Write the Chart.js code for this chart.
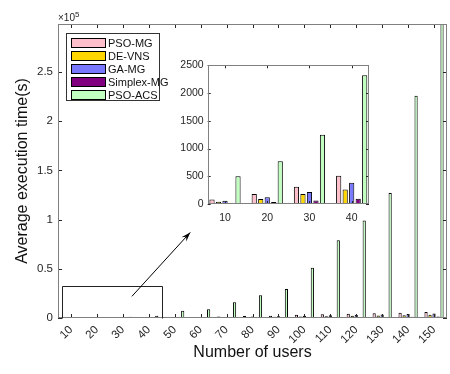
<!DOCTYPE html>
<html><head><meta charset="utf-8">
<script src="https://cdn.jsdelivr.net/npm/chart.js@4/dist/chart.umd.min.js"></script>
<style>
html,body{margin:0;padding:0;background:#fff;}
#wrap{position:relative;width:450px;height:374px;font-family:"Liberation Sans",Arial,sans-serif;}
#main{position:absolute;left:0;top:0;}
#inset{position:absolute;left:170px;top:55px;}
#legend{position:absolute;left:66px;top:33px;width:94px;height:68px;border:1px solid #333;background:#fff;box-sizing:border-box;padding:3px 0 0 4px;}
.row{height:12.8px;display:flex;align-items:center;font-size:11px;color:#111;white-space:nowrap;}
.sw{width:35px;height:10px;border:1px solid #000;margin-right:2px;box-sizing:border-box;flex:none;}
</style></head>
<body>
<div id="wrap">
<canvas id="main" width="450" height="374"></canvas>
<canvas id="inset" width="205" height="173"></canvas>
<div id="legend"></div>
</div>
<script>
const users = [10,20,30,40,50,60,70,80,90,100,110,120,130,140,150];
const seriesNames = ['PSO-MG','DE-VNS','GA-MG','Simplex-MG','PSO-ACS'];
const psoMG     = [80,180,310,510,800,1100,1500,2000,2400,3400,3800,4400,4800,5400,6000];
const deVNS     = [40,90,180,260,400,550,750,1000,1200,1600,1900,2200,2500,2900,3300];
const gaMG      = [60,120,215,385,550,800,1100,1400,1800,2400,2800,3200,3600,4000,4500];
const simplexMG = [20,35,65,95,180,250,330,420,520,640,770,900,1050,1200,1400];
const psoACS    = [500,770,1250,2320,7300,8800,16000,23000,29500,51000,79000,99000,127000,226000,310000];
const yTicksMain = [0,50000,100000,150000,200000,250000];
const insetUsers = [10,20,30,40];
const yTicksInset = [0,500,1000,1500,2000,2500];

const colors = ['#FFC0CB','#FFD700','#7878FF','#800080','#C0FFC0'];
const allSeries = [psoMG, deVNS, gaMG, simplexMG, psoACS];
const FONT = '"Liberation Sans", Arial, sans-serif';

function boxTicks(len){
  return {
    id:'boxTicks',
    beforeDraw(chart){
      const {ctx, chartArea:a} = chart;
      ctx.save(); ctx.fillStyle='#fff'; ctx.fillRect(a.left,a.top,a.right-a.left,a.bottom-a.top); ctx.restore();
    },
    afterDatasetsDraw(chart){
      const {ctx, chartArea:a, scales:{x,y}} = chart;
      ctx.save();
      ctx.lineWidth = 1;
      ctx.strokeStyle = '#262626';
      const ln=(x1,y1,x2,y2)=>{ctx.beginPath();ctx.moveTo(x1,y1);ctx.lineTo(x2,y2);ctx.stroke();};
      x.ticks.forEach((t,i)=>{const p=Math.round(x.getPixelForTick(i))+0.5; ln(p,a.bottom,p,a.bottom-len); ln(p,a.top,p,a.top+len);});
      y.ticks.forEach((t,i)=>{const p=Math.round(y.getPixelForTick(i))+0.5; ln(a.left,p,a.left+len,p); ln(a.right,p,a.right-len,p);});
      ctx.strokeStyle = '#808080';
      ctx.strokeRect(Math.round(a.left)+0.5, Math.round(a.top)+0.5, Math.round(a.right-a.left)-1, Math.round(a.bottom-a.top)-1);
      ctx.restore();
    }
  };
}

const annot = {
  id:'annot',
  afterDatasetsDraw(chart){
    const {ctx, chartArea:a, scales:{x,y}} = chart;
    const cw = x.getPixelForValue(1) - x.getPixelForValue(0);
    ctx.save();
    ctx.strokeStyle='#222'; ctx.lineWidth=1;
    const l = Math.round(x.getPixelForValue(0) - cw*0.35)+0.5;
    const r = Math.round(x.getPixelForValue(3) + cw*0.5)+0.5;
    const t = Math.round(y.getPixelForValue(33000))+0.5;
    const b = Math.round(y.getPixelForValue(0))+0.5;
    ctx.beginPath(); ctx.moveTo(l,b); ctx.lineTo(l,t); ctx.lineTo(r,t); ctx.lineTo(r,b); ctx.stroke();
    const x1 = x.getPixelForValue(2.35), y1 = y.getPixelForValue(22000);
    const x2 = x.getPixelForValue(4.6),  y2 = y.getPixelForValue(87000);
    ctx.strokeStyle='#000';
    ctx.beginPath(); ctx.moveTo(x1,y1); ctx.lineTo(x2,y2); ctx.stroke();
    const ang = Math.atan2(y2-y1,x2-x1), h=10, s=0.33;
    ctx.fillStyle='#000';
    ctx.beginPath(); ctx.moveTo(x2,y2);
    ctx.lineTo(x2-h*Math.cos(ang-s), y2-h*Math.sin(ang-s));
    ctx.lineTo(x2-h*0.6*Math.cos(ang), y2-h*0.6*Math.sin(ang));
    ctx.lineTo(x2-h*Math.cos(ang+s), y2-h*Math.sin(ang+s));
    ctx.closePath(); ctx.fill();
    ctx.fillStyle='#262626'; ctx.textBaseline='alphabetic'; ctx.textAlign='left';
    ctx.font = '10px '+FONT;
    ctx.fillText('\u00d710', a.left, a.top-3);
    const w = ctx.measureText('\u00d710').width;
    ctx.font = '8px '+FONT;
    ctx.fillText('5', a.left+w, a.top-7);
    ctx.restore();
  }
};

new Chart(document.getElementById('main'), {
  type:'bar',
  data:{
    labels: users.map(String),
    datasets: seriesNames.map((n,i)=>({label:n, data:allSeries[i], backgroundColor:colors[i], borderColor:'#000', borderWidth:1,
      categoryPercentage:0.77, barPercentage:0.8}))
  },
  options:{
    responsive:false, animation:false, devicePixelRatio:1,
    layout:{padding:{left:0,right:3,top:24,bottom:0}},
    plugins:{legend:{display:false}, tooltip:{enabled:false}},
    scales:{
      x:{
        grid:{display:false, drawTicks:false}, border:{display:false},
        ticks:{maxRotation:45, minRotation:45, color:'#262626', font:{family:FONT,size:11.5}, padding:5, autoSkip:false},
        title:{display:true, text:'Number of users', color:'#111', font:{family:FONT,size:16}, padding:{top:0,bottom:12}},
        afterFit(s){ s.height = 56; }
      },
      y:{
        min:0, max:298800,
        afterBuildTicks(s){ s.ticks = yTicksMain.map(v=>({value:v})); },
        grid:{display:false, drawTicks:false}, border:{display:false},
        ticks:{color:'#262626', font:{family:FONT,size:11.5}, padding:5, callback:(v)=>String(v/1e5)},
        title:{display:true, text:'Average execution time(s)', color:'#111', font:{family:FONT,size:16}, padding:{top:13,bottom:0}},
        afterFit(s){ s.width = 58; }
      }
    }
  },
  plugins:[boxTicks(4), annot]
});

new Chart(document.getElementById('inset'), {
  type:'bar',
  data:{
    datasets: seriesNames.map((n,i)=>({label:n, data:insetUsers.map((u,k)=>({x:u, y:allSeries[i][k]})), backgroundColor:colors[i], borderColor:'#000', borderWidth:1,
      categoryPercentage:0.77, barPercentage:0.8}))
  },
  options:{
    responsive:false, animation:false, devicePixelRatio:1,
    layout:{padding:{left:0,right:6,top:6,bottom:0}},
    plugins:{legend:{display:false}, tooltip:{enabled:false}},
    scales:{
      x:{
        type:'linear', min:5.9, max:44.1, offset:false,
        afterBuildTicks(s){ s.ticks = insetUsers.map(v=>({value:v})); },
        grid:{display:false, drawTicks:false, offset:false}, border:{display:false},
        ticks:{color:'#262626', font:{family:FONT,size:10.5}, padding:8, maxRotation:0, callback:(v)=>String(v)},
        afterFit(s){ s.height = 24; }
      },
      y:{
        min:0, max:2500,
        afterBuildTicks(s){ s.ticks = yTicksInset.map(v=>({value:v})); },
        grid:{display:false, drawTicks:false}, border:{display:false},
        ticks:{color:'#262626', font:{family:FONT,size:10.5}, padding:4, callback:(v)=>String(v)},
        afterFit(s){ s.width = 37.7; }
      }
    }
  },
  plugins:[boxTicks(3)]
});

const lg = document.getElementById('legend');
seriesNames.forEach((n,i)=>{
  const r=document.createElement('div'); r.className='row';
  const sw=document.createElement('div'); sw.className='sw'; sw.style.background=colors[i];
  const t=document.createElement('span'); t.textContent=n;
  r.appendChild(sw); r.appendChild(t); lg.appendChild(r);
});
</script>
</body></html>
